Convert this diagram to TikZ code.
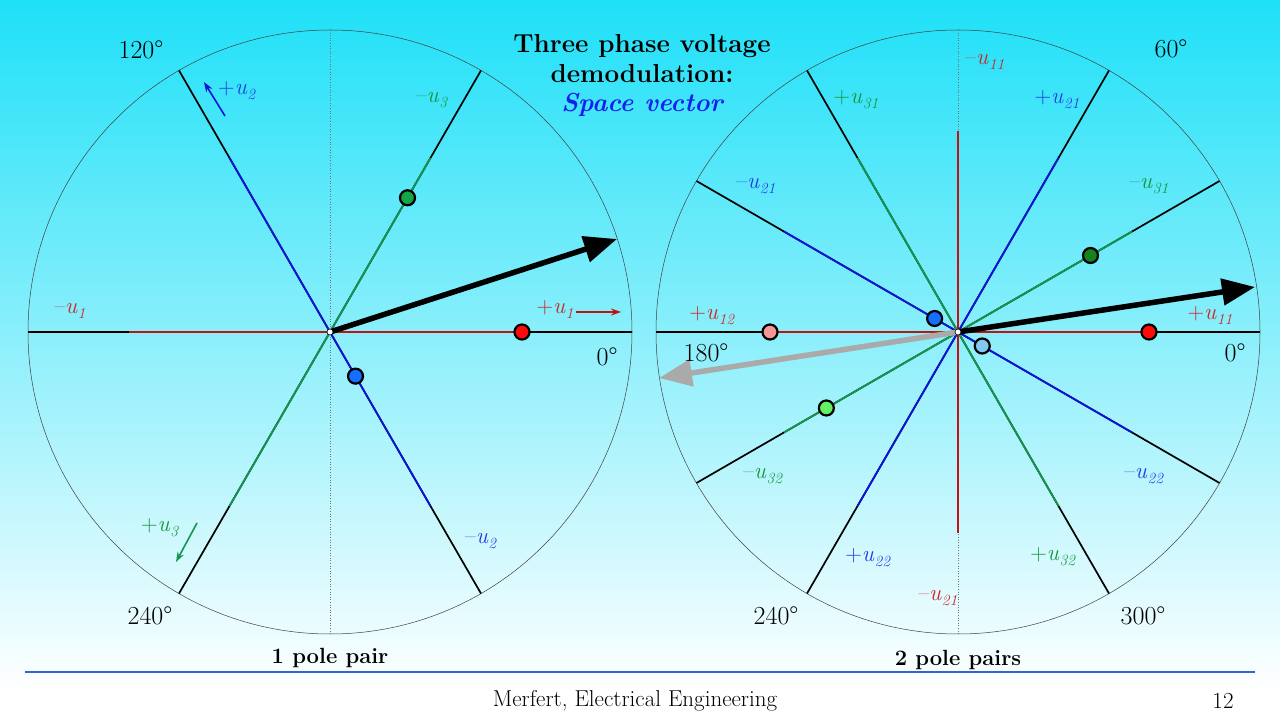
\documentclass[tikz,border=0pt]{standalone}
\usepackage{fontspec}
\usetikzlibrary{arrows.meta,calc}
\definecolor{bgtop}{RGB}{30,224,248}
\definecolor{lred}{RGB}{190,20,20}
\definecolor{tred}{RGB}{200,40,40}
\definecolor{lblue}{RGB}{10,20,220}
\definecolor{tblue}{RGB}{30,60,230}
\definecolor{lgreen}{RGB}{20,150,80}
\definecolor{tgreen}{RGB}{20,150,60}
\definecolor{dred}{RGB}{255,10,10}
\definecolor{dgreen}{RGB}{20,165,70}
\definecolor{dblue}{RGB}{20,110,255}
\definecolor{ddkgreen}{RGB}{20,130,30}
\definecolor{dlblue}{RGB}{130,200,240}
\definecolor{dpink}{RGB}{245,150,150}
\definecolor{dlgreen}{RGB}{100,240,100}
\definecolor{garrow}{RGB}{170,170,170}
\definecolor{footline}{RGB}{50,100,210}
\definecolor{titleblue}{RGB}{20,30,240}
\newcommand\uvar[2]{#1\textit{u}\raisebox{-0.22em}{\fontsize{15.5}{16}\selectfont\textit{#2}}}
\begin{document}
\begin{tikzpicture}[x=1pt,y=1pt,
  circ/.style={draw=black!75,line width=0.5pt},
  vaxis/.style={draw=black!55,dotted,line width=0.6pt},
  blk/.style={draw=black,line width=1.7pt},
  redl/.style={draw=lred,line width=1.8pt},
  bluel/.style={draw=lblue,line width=1.8pt},
  greenl/.style={draw=lgreen,line width=1.8pt},
  dotn/.style={circle,draw=black,line width=2.2pt,minimum size=15pt,inner sep=0pt},
  ctr/.style={circle,draw=black,fill=white,line width=0.6pt,minimum size=6pt,inner sep=0pt},
  vec/.style={line width=5.5pt,-{Triangle[length=33pt,width=26pt]}},
  ann/.style={line width=1.6pt,-{Stealth[length=10pt,width=7pt]}},
  deg/.style={font=\fontsize{26}{30}\selectfont,inner sep=0pt},
  ulab/.style={font=\fontsize{23}{26}\selectfont,inner sep=0pt},
  plab/.style={font=\fontsize{22}{25}\selectfont\bfseries,inner sep=0pt},
  foot/.style={font=\fontsize{23}{25}\selectfont,inner sep=0pt}]
\useasboundingbox (0,0) rectangle (1280,720);
\fill[white] (0,0) rectangle (1280,40);
\shade[top color=bgtop,bottom color=white] (0,30) rectangle (1280,720);

% ---------------- left circle ----------------
\coordinate (L) at (330,388);
\begin{scope}[shift={(L)}]
  \draw[circ] (0,0) circle (302);
  \draw[vaxis] (90:302) -- (270:302);
  \draw[blk] (180:302) -- (0:302);
  \draw[blk] (120:302) -- (300:302);
  \draw[blk] (60:302) -- (240:302);
  \draw[redl] (180:201) -- (0:192);
  \draw[bluel] (120:201) -- (300:201);
  \draw[greenl] (60:201) -- (240:201);
  \coordinate (Ltip) at (287,93);
  \draw[vec] (0,0) -- (Ltip);
  \node[dotn,fill=dred] (Lr) at (0:192) {};
  \node[dotn,fill=dgreen] (Lg) at (60:155) {};
  \node[dotn,fill=dblue] (Lb) at (300:51) {};
  \node[ctr] (Lc) at (0,0) {};
\end{scope}
\node[deg] (L120) at (141,670) {120°};
\node[deg] (L0) at (607,363) {0°};
\node[deg] (L240) at (150,104) {240°};
\node[ulab,text=tred] (Lmu1) at (70,409) {\uvar{–}{1}};
\node[ulab,text=tred] (Lpu1) at (555,410) {\uvar{+}{1}};
\node[ulab,text=tblue] (Lpu2) at (237,629) {\uvar{+}{2}};
\node[ulab,text=tgreen] (Lmu3) at (432,620) {\uvar{–}{3}};
\node[ulab,text=tgreen] (Lpu3) at (160,192) {\uvar{+}{3}};
\node[ulab,text=tblue] (Lmu2) at (481,179) {\uvar{–}{2}};
\node[plab] (Lpp) at (330,62) {1 pole pair};
\coordinate (a1s) at (576,408); \coordinate (a1e) at (621,408);
\draw[ann,draw=lred] (a1s) -- (a1e);
\coordinate (a2s) at (225,604); \coordinate (a2e) at (204,638);
\draw[ann,draw=lblue] (a2s) -- (a2e);
\coordinate (a3s) at (197,197); \coordinate (a3e) at (176,158);
\draw[ann,draw=lgreen] (a3s) -- (a3e);

% ---------------- right circle ----------------
\coordinate (R) at (958,388);
\begin{scope}[shift={(R)}]
  \draw[circ] (0,0) circle (302);
  \draw[vaxis] (90:302) -- (270:302);
  \draw[blk] (180:302) -- (0:302);
  \draw[blk] (30:302) -- (210:302);
  \draw[blk] (60:302) -- (240:302);
  \draw[blk] (120:302) -- (300:302);
  \draw[blk] (150:302) -- (330:302);
  \draw[redl] (180:190) -- (0:192);
  \draw[redl] (90:201) -- (270:201);
  \draw[bluel] (60:201) -- (240:201);
  \draw[bluel] (150:201) -- (330:201);
  \draw[greenl] (120:201) -- (300:201);
  \draw[greenl] (30:201) -- (210:201);
  \coordinate (Rtip) at (297,45);
  \coordinate (Gtip) at (-299,-46);
  \draw[vec,draw=garrow] (0,0) -- (Gtip);
  \draw[vec] (0,0) -- (Rtip);
  \node[dotn,fill=dred] (Rr) at (0:191) {};
  \node[dotn,fill=dpink] (Rp) at (180:188) {};
  \node[dotn,fill=ddkgreen] (Rg) at (30:153) {};
  \node[dotn,fill=dlgreen] (Rlg) at (210:152) {};
  \node[dotn,fill=dblue] (Rb) at (150:27) {};
  \node[dotn,fill=dlblue] (Rlb) at (330:28) {};
  \node[ctr] (Rc) at (0,0) {};
\end{scope}
\node[deg] (R60) at (1171,671) {60°};
\node[deg] (R0) at (1235,367) {0°};
\node[deg] (R180) at (706,367) {180°};
\node[deg] (R240) at (776,104) {240°};
\node[deg] (R300) at (1143,104) {300°};
\node[ulab,text=tred] (Rmu11) at (985,658) {\uvar{–}{11}};
\node[ulab,text=tgreen] (Rpu31) at (856,620) {\uvar{+}{31}};
\node[ulab,text=tblue] (Rpu21) at (1057,620) {\uvar{+}{21}};
\node[ulab,text=tblue] (Rmu21) at (756,534) {\uvar{–}{21}};
\node[ulab,text=tgreen] (Rmu31) at (1149,534) {\uvar{–}{31}};
\node[ulab,text=tred] (Rpu12) at (712,404) {\uvar{+}{12}};
\node[ulab,text=tred] (Rpu11) at (1210,404) {\uvar{+}{11}};
\node[ulab,text=tgreen] (Rmu32) at (763,244) {\uvar{–}{32}};
\node[ulab,text=tblue] (Rmu22) at (1144,244) {\uvar{–}{22}};
\node[ulab,text=tblue] (Rpu22) at (868,162) {\uvar{+}{22}};
\node[ulab,text=tgreen] (Rpu32) at (1053,163) {\uvar{+}{32}};
\node[ulab,text=tred] (Rmu21b) at (938,122) {\uvar{–}{21}};
\node[plab] (Rpp) at (958,60) {2 pole pairs};

% ---------------- title and footer ----------------
\node[align=center,inner sep=0pt,font=\fontsize{26}{29.5}\selectfont\bfseries] (title) at (642,644)
  {Three phase voltage\\demodulation:\\{\color{titleblue}\itshape Space vector}};
\coordinate (fl) at (25,48); \coordinate (fr) at (1255,48);
\draw[footline,line width=1.1pt] (fl) -- (fr);
\node[foot] (author) at (635,19) {Merfert, Electrical Engineering};
\node[foot] (page) at (1223,19) {12};
\end{tikzpicture}
\end{document}
